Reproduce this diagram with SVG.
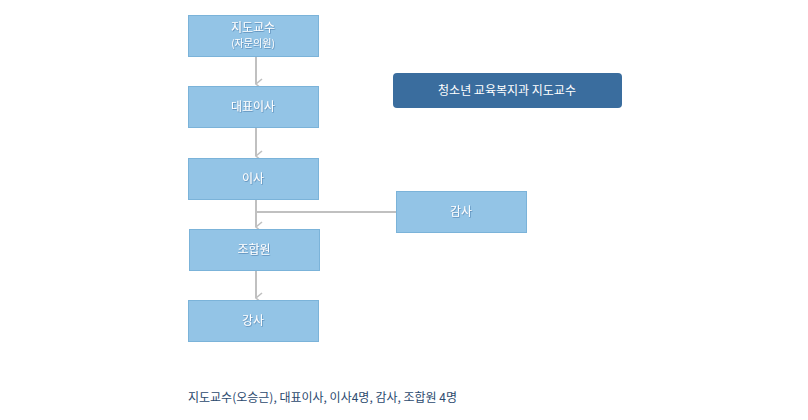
<svg xmlns="http://www.w3.org/2000/svg" width="808" height="420" viewBox="0 0 808 420">
<defs>
<filter id="sh" x="-10%" y="-10%" width="120%" height="130%"><feDropShadow dx="0.6" dy="0.8" stdDeviation="0.5" flood-color="#3a6d9e" flood-opacity="0.7"/></filter>
<marker id="ar" viewBox="0 0 12 10" refX="6" refY="8" markerWidth="12" markerHeight="10" markerUnits="userSpaceOnUse" orient="auto-start-reverse"><path d="M1,2 L6,8 L11,2" fill="none" stroke="#c0c0c0" stroke-width="1.6"/></marker>
</defs>
<style>
.b{fill:#93c4e6;stroke:#7bb3d9;stroke-width:1}
.t{font-family:"Noto Sans CJK KR","Noto Sans",sans-serif;font-size:12px;fill:#fff;text-anchor:middle;filter:url(#sh)}
.c{stroke:#c0c0c0;stroke-width:2;fill:none}
</style>
<rect width="808" height="420" fill="#fff"/>
<g id="connectors">
<line class="c" x1="256" y1="56" x2="256" y2="84" marker-end="url(#ar)"/>
<line class="c" x1="256" y1="127" x2="256" y2="156" marker-end="url(#ar)"/>
<line class="c" x1="256" y1="199" x2="256" y2="227" marker-end="url(#ar)"/>
<line class="c" x1="396" y1="212" x2="256" y2="212"/>
<line class="c" x1="256" y1="270" x2="256" y2="298" marker-end="url(#ar)"/>
</g>
<g id="n1"><rect class="b" x="188.5" y="15.5" width="130" height="41"/><text class="t" x="253" y="32">지도교수</text><text class="t" x="253" y="47" style="font-size:10px">(자문의원)</text></g>
<g id="n2"><rect class="b" x="188.5" y="86.5" width="130" height="41"/><text class="t" x="253" y="111">대표이사</text></g>
<g id="n3"><rect class="b" x="188.5" y="158.5" width="130" height="41"/><text class="t" x="253" y="183">이사</text></g>
<g id="n4"><rect class="b" x="189.5" y="229.5" width="130" height="41"/><text class="t" x="254" y="254">조합원</text></g>
<g id="n5"><rect class="b" x="188.5" y="300.5" width="130" height="41"/><text class="t" x="253" y="325">강사</text></g>
<g id="n6"><rect class="b" x="396.5" y="191.5" width="130" height="41"/><text class="t" x="461" y="216">감사</text></g>
<g id="n7"><rect x="393" y="73" width="229" height="35" rx="4" fill="#3a6d9e"/><text x="507" y="95" style="font-family:'Noto Sans CJK KR',sans-serif;font-size:12px;fill:#fff;text-anchor:middle">청소년 교육복지과 지도교수</text></g>
<text x="188" y="402" style="font-family:'Noto Sans CJK KR',sans-serif;font-size:12px;fill:#2c4a6e">지도교수(오승근), 대표이사, 이사4명, 감사, 조합원 4명</text>
</svg>
